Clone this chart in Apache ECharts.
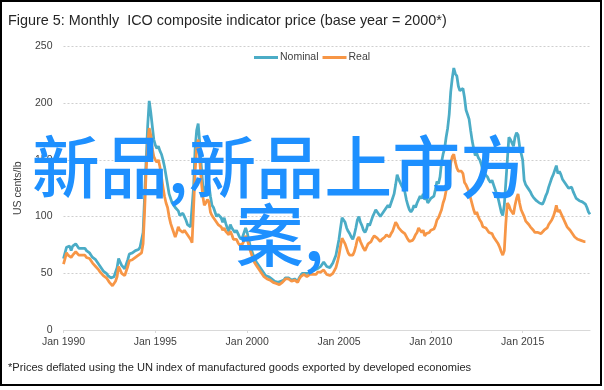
<!DOCTYPE html>
<html><head><meta charset="utf-8">
<script src="https://cdn.jsdelivr.net/npm/echarts@6/dist/echarts.min.js"></script>
<style>html,body{margin:0;padding:0;background:#fff}#c{width:604px;height:390px}</style>
</head><body><div id="c"></div><script>
// Monthly categories Jan 1990 .. Sep 2018
const startYear = 1990;
const monthNames = ['Jan','Feb','Mar','Apr','May','Jun','Jul','Aug','Sep','Oct','Nov','Dec'];
const tickLabels = ['Jan 1990','Jan 1995','Jan 2000','Jan 2005','Jan 2010','Jan 2015'];
const yTicks = [0, 50, 100, 150, 200, 250];

// Nominal ICO composite indicator price, US cents/lb
const nominal = [
  63, 68, 73, 72, 74, 70, 74, 73, 76, 74, 72, 73,        // 1990
  72, 71, 72, 70, 69, 68, 66, 64, 63, 62, 60, 58,        // 1991
  56, 54, 52, 51, 50, 48, 47, 46, 45, 47, 51, 55,        // 1992
  63, 60, 57, 56, 54, 58, 62, 67, 66, 68, 69, 70,        // 1993
  71, 71, 73, 74, 86, 118, 150, 180, 202, 192, 180, 168, // 1994
  163, 160, 162, 158, 155, 150, 144, 136, 128, 120, 116, 112, // 1995
  110, 108, 109, 105, 101, 100, 103, 100, 97, 93, 94, 91, // 1996
  90, 126, 160, 176, 182, 165, 145, 128, 122, 126, 130, 128, // 1997
  118, 110, 108, 104, 100, 102, 103, 99, 95, 99, 94, 90, // 1998
  87, 93, 90, 88, 86, 88, 85, 82, 80, 82, 86, 90,        // 1999
  86, 80, 74, 70, 66, 63, 60, 58, 56, 54, 52, 50,        // 2000
  48, 47, 47, 46, 45, 44, 43, 43, 42, 42, 43, 43,        // 2001
  44, 46, 47, 46, 45, 44, 44, 45, 44, 43, 46, 48,        // 2002
  50, 51, 50, 49, 50, 51, 52, 51, 53, 52, 54, 55,        // 2003
  56, 58, 60, 58, 56, 55, 55, 57, 59, 60, 66, 73,        // 2004
  80, 90, 99, 100, 95, 90, 87, 85, 82, 80, 84, 90,       // 2005
  97, 100, 95, 92, 88, 86, 89, 94, 92, 96, 100, 103,     // 2006
  106, 104, 102, 100, 102, 104, 106, 108, 110, 108, 112, 116, // 2007
  120, 128, 137, 133, 130, 127, 125, 122, 115, 110, 106, 104, // 2008
  106, 110, 108, 112, 115, 118, 116, 120, 115, 117, 112, 114, // 2009
  116, 115, 118, 124, 131, 129, 135, 148, 155, 160, 170, 178, // 2010
  190, 210, 222, 231, 226, 224, 215, 211, 210, 213, 205, 194, // 2011
  190, 186, 176, 167, 160, 154, 156, 152, 150, 146, 140, 138, // 2012
  137, 135, 132, 130, 132, 128, 124, 120, 116, 110, 104, 101, // 2013
  110, 130, 150, 170, 168, 165, 162, 170, 174, 172, 162, 156, // 2014
  150, 132, 128, 126, 124, 122, 119, 117, 116, 114, 113, 112, // 2015
  112, 111, 114, 118, 121, 126, 130, 134, 137, 141, 145, 138, // 2016
  140, 137, 133, 131, 129, 127, 125, 124, 126, 122, 119, 116, // 2017
  115, 114, 113, 113, 112, 111, 108, 104, 102            // 2018
];

// Real (deflated) price, US cents/lb
const real = [
  58, 63, 68, 66, 67, 64, 66, 66, 69, 68, 66, 67,        // 1990
  66, 65, 66, 64, 64, 63, 61, 59, 58, 56, 55, 53,        // 1991
  51, 50, 48, 47, 46, 44, 42, 41, 39, 40, 43, 47,        // 1992
  56, 53, 50, 50, 48, 52, 56, 61, 60, 62, 63, 64,        // 1993
  65, 66, 66, 68, 76, 105, 140, 165, 178, 172, 160, 153, // 1994
  150, 148, 150, 144, 135, 126, 118, 112, 108, 100, 94, 90, // 1995
  86, 82, 86, 91, 88, 88, 86, 88, 86, 84, 82, 80,        // 1996
  77, 108, 140, 160, 168, 150, 132, 118, 110, 112, 115, 113, // 1997
  104, 101, 99, 97, 95, 93, 92, 91, 88, 90, 87, 86,      // 1998
  84, 87, 84, 80, 79, 80, 77, 75, 74, 76, 79, 83,        // 1999
  80, 75, 70, 66, 62, 59, 57, 55, 53, 51, 49, 47,        // 2000
  46, 45, 45, 44, 43, 42, 41, 41, 40, 40, 41, 42,        // 2001
  43, 45, 46, 45, 44, 43, 43, 44, 43, 42, 45, 47,        // 2002
  48, 49, 48, 47, 48, 49, 50, 49, 50, 49, 51, 51,        // 2003
  51, 52, 53, 51, 49, 48, 48, 49, 50, 51, 55, 60,        // 2004
  66, 74, 81, 80, 76, 72, 68, 66, 67, 66, 69, 74,        // 2005
  80, 82, 78, 75, 72, 70, 73, 76, 75, 78, 81, 83,        // 2006
  84, 81, 80, 78, 80, 81, 82, 84, 83, 82, 85, 87,        // 2007
  88, 95, 93, 90, 89, 87, 86, 85, 84, 80, 78, 79,        // 2008
  79, 81, 84, 86, 90, 88, 86, 88, 83, 85, 84, 86,        // 2009
  88, 87, 89, 92, 97, 99, 100, 106, 112, 116, 123, 128,  // 2010
  134, 147, 153, 155, 148, 143, 140, 139, 140, 138, 130, 128, // 2011
  128, 122, 116, 111, 106, 102, 104, 100, 97, 95, 91, 90, // 2012
  90, 88, 86, 85, 85, 82, 80, 78, 76, 73, 69, 66,        // 2013
  70, 94, 112, 110, 106, 104, 102, 110, 116, 120, 112, 106, // 2014
  106, 100, 96, 95, 93, 91, 90, 88, 86, 87, 86, 87,      // 2015
  85, 86, 88, 87, 90, 93, 95, 97, 100, 104, 110, 104,    // 2016
  106, 103, 100, 97, 94, 91, 90, 88, 87, 84, 82, 81,     // 2017
  80, 79, 79, 78, 78, 78                                 // 2018
];

const categories = nominal.map((_, i) => monthNames[i % 12] + ' ' + (startYear + Math.floor(i / 12)));
const showTick = (i, v) => tickLabels.indexOf(categories[i]) >= 0;

const chart = echarts.init(document.getElementById('c'), null, {renderer: 'canvas'});
const txt = '#404040';
chart.setOption({
  animation: false,
  backgroundColor: '#fff',
  title: {
    text: 'Figure 5: Monthly  ICO composite indicator price (base year = 2000*)',
    left: 3, top: 9,
    textStyle: {fontFamily: 'Liberation Sans', fontSize: 14.4, fontWeight: 'normal', color: '#262626'}
  },
  legend: {
    left: 249, top: 47,
    icon: 'rect', itemWidth: 24, itemHeight: 3, itemGap: 4,
    textStyle: {fontFamily: 'Liberation Sans', fontSize: 10.5, color: txt, padding: [0, 0, 0, -3]},
    data: ['Nominal', 'Real']
  },
  grid: {left: 63.5, right: 14, top: 46.5, bottom: 60, containLabel: false},
  xAxis: {
    type: 'category', data: categories, boundaryGap: false,
    axisLine: {lineStyle: {color: '#d9d9d9', width: 1}},
    axisTick: {show: true, length: 3, interval: showTick, lineStyle: {color: '#d9d9d9'}},
    axisLabel: {interval: showTick, fontFamily: 'Liberation Sans', fontSize: 10.5, color: txt, margin: 7},
    splitLine: {show: false}
  },
  yAxis: {
    type: 'value', min: yTicks[0], max: yTicks[yTicks.length - 1], interval: 50,
    name: 'US cents/lb', nameLocation: 'middle', nameGap: 32,
    nameTextStyle: {fontFamily: 'Liberation Sans', fontSize: 10.5, color: txt},
    axisLine: {show: false}, axisTick: {show: false},
    axisLabel: {fontFamily: 'Liberation Sans', fontSize: 10.5, color: txt, margin: 11},
    splitLine: {lineStyle: {color: '#cfcfcf', width: 1, type: [2, 2]}}
  },
  series: [
    {name: 'Nominal', type: 'line', data: nominal, showSymbol: false, symbol: 'none',
     lineStyle: {color: '#4BACC6', width: 2.75}, itemStyle: {color: '#4BACC6'}},
    {name: 'Real', type: 'line', data: real, showSymbol: false, symbol: 'none',
     lineStyle: {color: '#F79646', width: 2.75}, itemStyle: {color: '#F79646'}}
  ],
  graphic: [
    {type: 'rect', silent: true, z: 100,
     shape: {x: 1, y: 1, width: 600, height: 384},
     style: {fill: null, stroke: '#000', lineWidth: 2}},
    {type: 'text', left: 8, top: 362, silent: true, z: 100,
     style: {text: '*Prices deflated using the UN index of manufactured goods exported by developed economies',
             fontFamily: 'Liberation Sans', fontSize: 11.1, fill: '#262626'}},
    {type: 'text', x: 280, y: 133, silent: true, z: 200,
     style: {text: '新品,新品上市方\n案,', align: 'center', verticalAlign: 'top',
             fontFamily: 'Noto Sans CJK SC', fontSize: 68, lineHeight: 68, fontWeight: 500, fill: '#1E90FF'}}
  ]
});
</script></body></html>
